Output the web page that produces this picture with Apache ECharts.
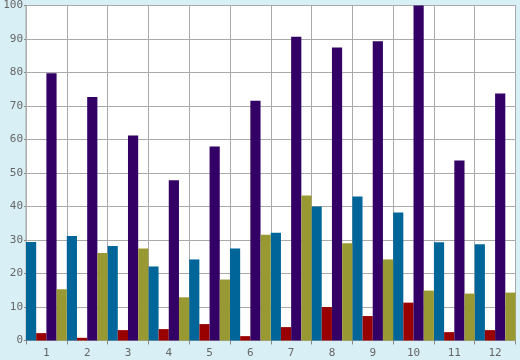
<!DOCTYPE html>
<html>
<head>
<meta charset="utf-8">
<script src="https://cdn.jsdelivr.net/npm/echarts@6/dist/echarts.min.js"></script>
<style>
html,body{margin:0;padding:0;background:#d9eff6;}
#chart{width:520px;height:360px;}
</style>
</head>
<body>
<div id="chart"></div>
<script>
var categories = ['1','2','3','4','5','6','7','8','9','10','11','12'];
var blueValues   = [29.4, 31.2, 28.2, 22.1, 24.2, 27.5, 32.2, 40.0, 43.0, 38.2, 29.3, 28.7];
var redValues    = [2.2, 0.8, 3.1, 3.4, 4.9, 1.3, 4.0, 10.0, 7.3, 11.3, 2.5, 3.1];
var purpleValues = [79.8, 72.7, 61.2, 47.8, 57.9, 71.6, 90.7, 87.5, 89.3, 100, 53.7, 73.7];
var oliveValues  = [15.3, 26.1, 27.5, 12.9, 18.2, 31.6, 43.3, 29.0, 24.2, 14.9, 14.0, 14.3];
var yTicks = { min: 0, max: 100, interval: 10 };

var chart = echarts.init(document.getElementById('chart'), null, {renderer: 'canvas'});
var gridColor = '#aaaaaa';
var labelStyle = { color: '#666666', fontFamily: 'DejaVu Sans Mono', fontSize: 11 };
function bar(name, data, color) {
  return { name: name, type: 'bar', data: data, barGap: '0%', barCategoryGap: '0%',
           itemStyle: { color: color }, animation: false };
}
chart.setOption({
  backgroundColor: '#d9eff6',
  animation: false,
  grid: { left: 26, top: 5.5, right: 4.5, bottom: 19.5, show: true, backgroundColor: '#ffffff', borderColor: gridColor, borderWidth: 1 },
  xAxis: {
    type: 'category', data: categories,
    axisLine: { show: true, lineStyle: { color: gridColor } },
    axisTick: { show: true, length: 4, lineStyle: { color: '#888888' } },
    splitLine: { show: true, lineStyle: { color: gridColor, width: 1 } },
    axisLabel: Object.assign({ margin: 7 }, labelStyle)
  },
  yAxis: {
    type: 'value', min: yTicks.min, max: yTicks.max, interval: yTicks.interval,
    axisLine: { show: true, lineStyle: { color: gridColor } },
    axisTick: { show: true, length: 2, lineStyle: { color: '#888888' } },
    splitLine: { show: true, lineStyle: { color: gridColor, width: 1 } },
    axisLabel: Object.assign({ margin: 3 }, labelStyle)
  },
  series: [
    bar('blue', blueValues, '#006699'),
    bar('red', redValues, '#990000'),
    bar('purple', purpleValues, '#330066'),
    bar('olive', oliveValues, '#999933')
  ]
});
</script>
</body>
</html>
